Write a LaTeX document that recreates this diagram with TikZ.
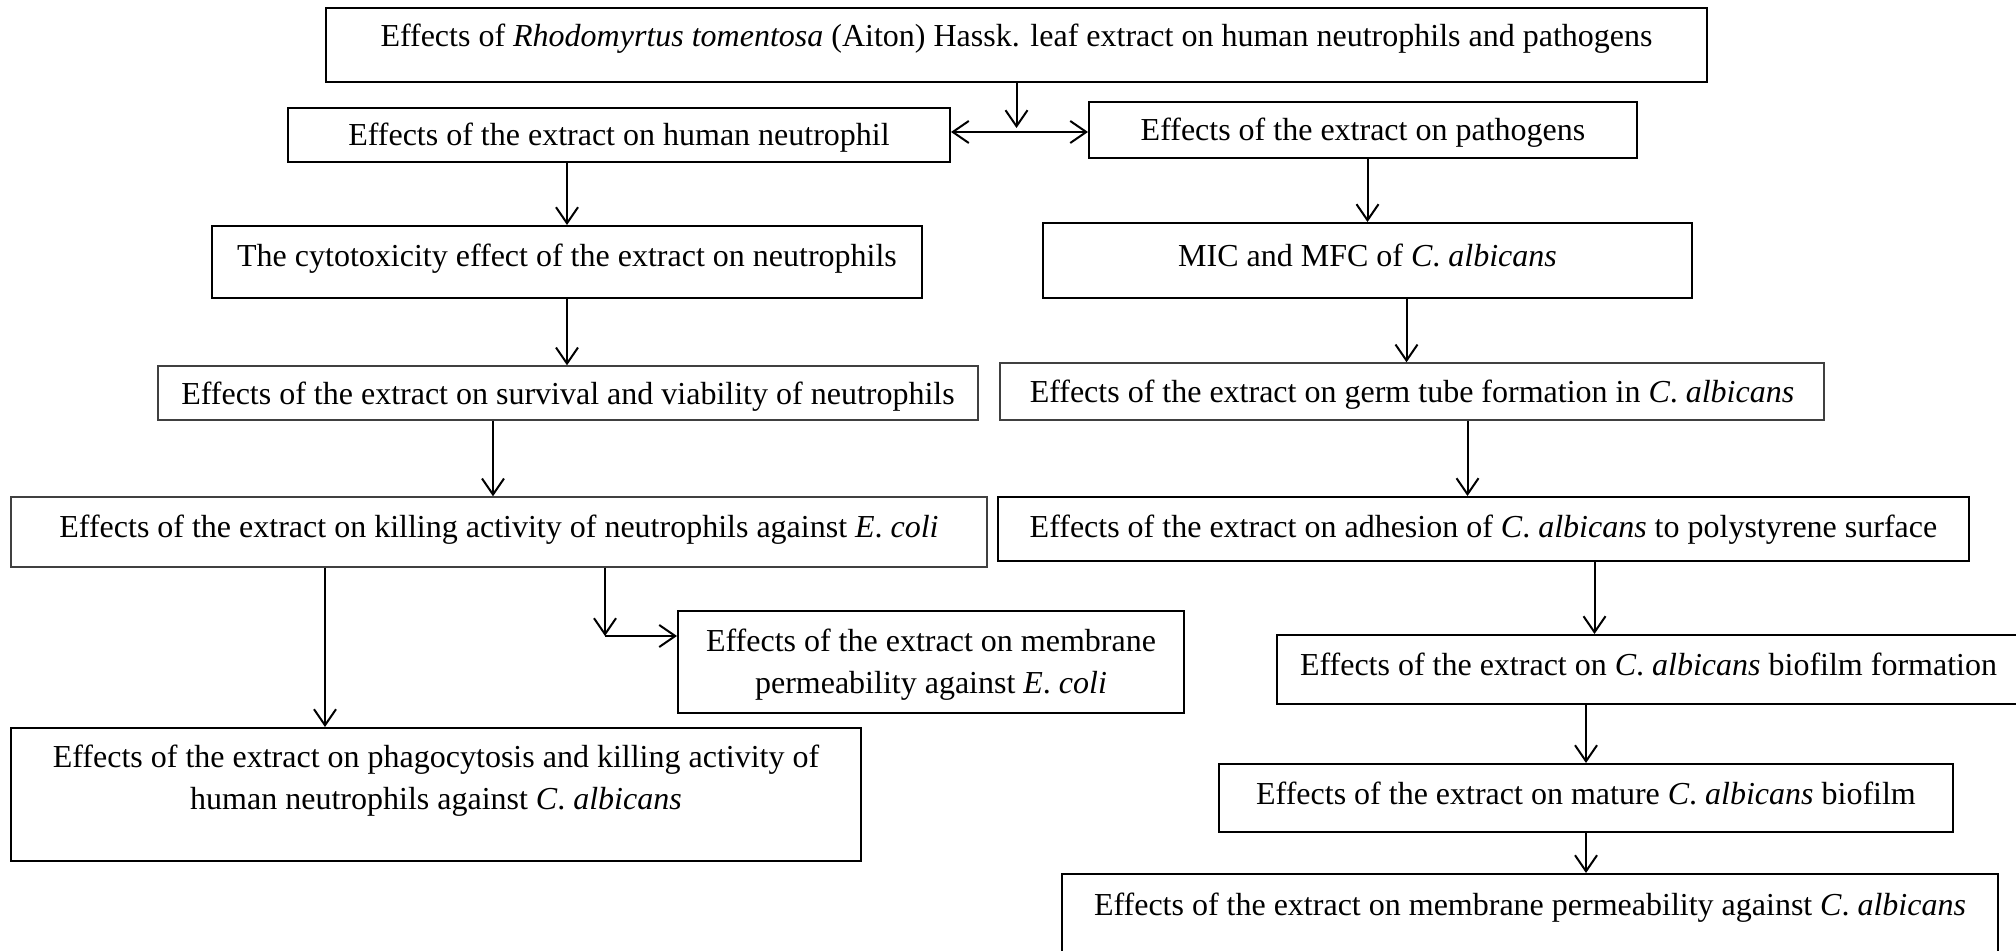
\documentclass[tikz,border=0pt]{standalone}
\usepackage{fontspec}
\setmainfont{Liberation Serif}
\usetikzlibrary{arrows.meta}

\tikzset{
    box/.style={draw, line width=1pt, align=center, inner sep=0pt, font=\fontsize{16}{21}\selectfont},
    thinbox/.style={box, draw=black!75, line width=0.7pt},
    arr/.style={-{Straight Barb[length=8pt,width=11pt]}, line width=1pt}
}

\begin{document}
\begin{tikzpicture}[x=0.5pt, y=-0.5pt]
        \useasboundingbox (0,0) rectangle (2016,951);
        % Overview
        \node[box, minimum width=690.5pt, minimum height=37pt, text depth=9.9pt] (top) at (1016.5,45) {Effects of \textit{Rhodomyrtus tomentosa} (Aiton) Hassk. leaf extract on human neutrophils and pathogens};
        \node[box, minimum width=331pt, minimum height=27pt, text depth=0.4pt] (neut) at (619,135) {Effects of the extract on human neutrophil};
        \node[box, minimum width=274pt, minimum height=28pt, text depth=0.4pt] (path) at (1363,130) {Effects of the extract on pathogens};
        % Neutrophil branch
        \node[box, minimum width=355pt, minimum height=36pt, text depth=6.4pt] (cyto) at (567,262) {The cytotoxicity effect of the extract on neutrophils};
        \node[thinbox, minimum width=410pt, minimum height=27pt, text depth=0pt] (surv) at (568,393) {Effects of the extract on survival and viability of neutrophils};
        \node[thinbox, minimum width=488pt, minimum height=35pt, text depth=5.8pt] (kill) at (499,532) {Effects of the extract on killing activity of neutrophils against \textit{E}. \textit{coli}};
        \node[box, minimum width=253pt, minimum height=51pt, text depth=0.6pt] (ecoli) at (931,662) {Effects of the extract on membrane\\permeability against \textit{E}. \textit{coli}};
        \node[box, minimum width=425pt, minimum height=66.5pt, text depth=17.4pt] (phago) at (436,794.5) {Effects of the extract on phagocytosis and killing activity of\\human neutrophils against \textit{C}. \textit{albicans}};
        % Pathogen branch
        \node[box, minimum width=324.5pt, minimum height=37.5pt, text depth=4.9pt] (mic) at (1367.5,260.5) {MIC and MFC of \textit{C}. \textit{albicans}};
        \node[thinbox, minimum width=412pt, minimum height=28.5pt, text depth=0pt] (germ) at (1412,391.5) {Effects of the extract on germ tube formation in \textit{C}. \textit{albicans}};
        \node[box, minimum width=485.5pt, minimum height=32pt, text depth=3.2pt] (adh) at (1483.5,529) {Effects of the extract on adhesion of \textit{C}. \textit{albicans} to polystyrene surface};
        \node[box, minimum width=371.5pt, minimum height=34.5pt, text depth=5.4pt] (bio) at (1648.5,669.5) {Effects of the extract on \textit{C}. \textit{albicans} biofilm formation};
        \node[box, minimum width=367pt, minimum height=34pt, text depth=4.4pt] (mat) at (1586,798) {Effects of the extract on mature \textit{C}. \textit{albicans} biofilm};
        \node[box, minimum width=468pt, minimum height=53pt, text depth=22.9pt] (memc) at (1530,927) {Effects of the extract on membrane permeability against \textit{C}. \textit{albicans}};

        % Connectors
        \coordinate (j) at (1017,132);
        \coordinate (k) at (605,636);
        \draw[arr] (top.south) -- ([yshift=2pt]top.south |- j);
        \draw[arr] (j) -- (j -| neut.east);
        \draw[arr] (j) -- (j -| path.west);
        \draw[arr] (cyto.north |- neut.south) -- (cyto.north);
        \draw[arr] (cyto.south) -- (cyto.south |- surv.north);
        \draw[arr] ([xshift=-3pt]kill.north |- surv.south) -- ([xshift=-3pt]kill.north);
        \draw[arr] ([xshift=-55.5pt]phago.north |- kill.south) -- ([xshift=-55.5pt]phago.north);
        \draw[arr] (kill.south -| k) -- (k);
        \draw[arr] (k) -- (k -| ecoli.west);
        \draw[arr] (mic.north |- path.south) -- (mic.north);
        \draw[arr] ([xshift=19.5pt]mic.south) -- ([xshift=19.5pt]mic.south |- germ.north);
        \draw[arr] ([xshift=-8pt]adh.north |- germ.south) -- ([xshift=-8pt]adh.north);
        \draw[arr] ([xshift=-27pt]bio.north |- adh.south) -- ([xshift=-27pt]bio.north);
        \draw[arr] (mat.north |- bio.south) -- (mat.north);
        \draw[arr] (mat.south) -- (mat.south |- memc.north);
\end{tikzpicture}
\end{document}
